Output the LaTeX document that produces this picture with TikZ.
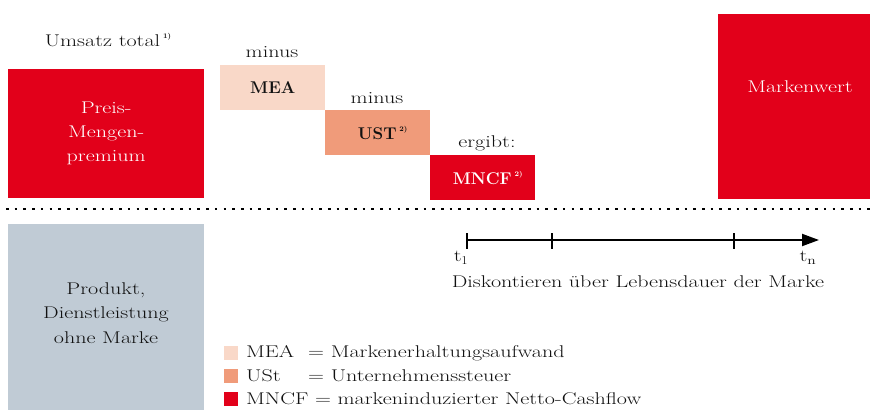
\documentclass[tikz,border=0pt]{standalone}
\usepackage{fontspec}
\setmainfont{Latin Modern Roman}[FakeStretch=1.3]
\newfontfamily\boldfam{Latin Modern Roman}[FakeStretch=1.0]
\newcommand{\bx}[1]{{\boldfam\bfseries #1}}
\usetikzlibrary{arrows.meta}
\definecolor{brandred}{HTML}{E2001A}
\definecolor{meacol}{HTML}{F9D8C8}
\definecolor{ustcol}{HTML}{F09B7A}
\definecolor{graycol}{HTML}{C0CBD5}
\definecolor{txtcol}{HTML}{111111}
\begin{document}
\begin{tikzpicture}[x=1pt,y=-1pt,
  txt/.style={font=\fontsize{17}{24.5}\selectfont, inner sep=0pt, text=txtcol},
  box/.style={draw=none, anchor=north west, inner sep=0pt, align=center, font=\fontsize{17}{24}\selectfont},
  sq/.style={fill=#1, draw=none, minimum width=14pt, minimum height=14pt, inner sep=0pt},
  tick/.style={line width=1.8pt}
]
\useasboundingbox (0,0) rectangle (870,410);
% boxes
\node[box, fill=brandred, text=white, minimum width=196pt, minimum height=129pt] (preis) at (8,69) {Preis-\\Mengen-\\premium};
\node[box, fill=meacol, text=txtcol, minimum width=105pt, minimum height=45pt] (mea) at (220,65) {\bx{MEA}};
\node[box, fill=ustcol, text=txtcol, minimum width=105pt, minimum height=45pt] (ust) at (325,110) {\hspace*{10pt}\bx{UST}\,\raisebox{1.1ex}{\scriptsize\bx{2)}}};
\node[box, fill=brandred, text=white, minimum width=105pt, minimum height=45pt] (mncf) at (430,155) {\hspace*{10pt}\bx{MNCF}\,\raisebox{1.1ex}{\scriptsize\bx{2)}}};
\node[box, fill=brandred, text=white, minimum width=152pt, minimum height=185pt] (wert) at (718,14) {};
\node[txt, text=white] (wertlbl) at (800,87) {Markenwert};
\node[box, fill=graycol, minimum width=196pt, minimum height=186pt] (prod) at (8,224) {};
\node[txt, align=center] (prodlbl) at (106,313) {Produkt,\\Dienstleistung\\ohne Marke};
% labels
\node[txt] (umsatz) at (108,40) {Umsatz total\,\raisebox{1.1ex}{\scriptsize\bx{1)}}};
\node[txt] (minus1) at (272,52) {minus};
\node[txt] (minus2) at (377,98) {minus};
\node[txt] (ergibt) at (487,143) {ergibt:};
% dotted separator
\coordinate (dl) at (6,209);
\coordinate (dr) at (870,209);
\draw[line width=2.6pt, dash pattern=on 2.6pt off 6.1pt] (dl) -- (dr);
% timeline
\coordinate (t1) at (467,240);
\coordinate (tA) at (552,240);
\coordinate (tB) at (734,240);
\coordinate (tn) at (819,240);
\draw[line width=2pt, -{Triangle[length=17pt,width=12pt]}] (t1) -- (tn);
\foreach \c in {t1,tA,tB} \draw[tick] ([yshift=-8.5pt]\c) -- ([yshift=7.5pt]\c);
\node[txt] (t1lbl) at (461,258) {t$_1$};
\node[txt] (tnlbl) at (807,258) {t$_{\mathrm{n}}$};
\node[txt] (disk) at (638,282) {Diskontieren über Lebensdauer der Marke};
% legend
\node[sq=meacol] (l1) at (231,353) {};
\node[sq=ustcol] (l2) at (231,376) {};
\node[sq=brandred] (l3) at (231,399) {};
\node[txt, anchor=west] (l1t) at (246,353) {\makebox[62pt][l]{MEA}= Markenerhaltungsaufwand};
\node[txt, anchor=west] (l2t) at (246,376) {\makebox[62pt][l]{USt}= Unternehmenssteuer};
\node[txt, anchor=west] (l3t) at (246,399) {MNCF = markeninduzierter Netto-Cashflow};
\end{tikzpicture}
\end{document}
